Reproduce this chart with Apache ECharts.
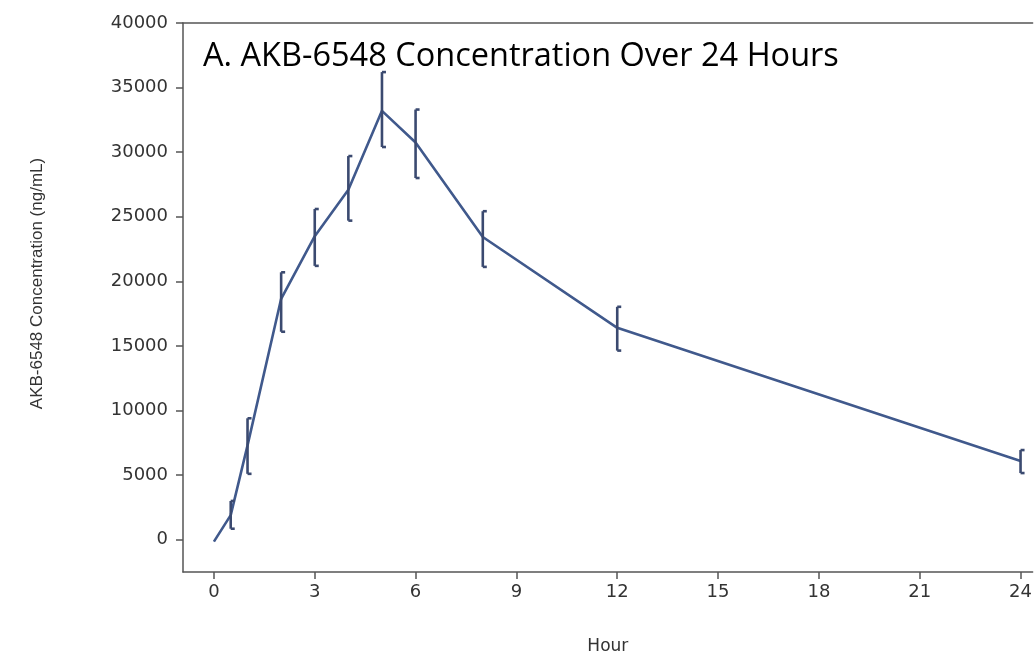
<!DOCTYPE html>
<html>
<head>
<meta charset="utf-8">
<script src="https://cdn.jsdelivr.net/npm/echarts@6/dist/echarts.min.js"></script>
<style>
html,body{margin:0;padding:0;background:#fff;}
#chart{width:1035px;height:660px;}
</style>
</head>
<body>
<div id="chart"></div>
<script>
// Data
const hours = [0, 0.5, 1, 2, 3, 4, 5, 6, 8, 12, 24];
const meanConc = [-150, 1900, 7300, 18650, 23500, 27100, 33200, 30750, 23430, 16400, 6090];
const lowerConc = [-150, 850, 5100, 16100, 21200, 24700, 30400, 28000, 21120, 14640, 5160];
const upperConc = [-150, 3000, 9400, 20700, 25600, 29700, 36200, 33300, 25430, 18030, 6940];
const xTickValues = [0, 3, 6, 9, 12, 15, 18, 21, 24];
const yTickValues = [0, 5000, 10000, 15000, 20000, 25000, 30000, 35000, 40000];
const titleText = 'A. AKB-6548 Concentration Over 24 Hours';
const xName = 'Hour';
const yName = 'AKB-6548 Concentration (ng/mL)';

const lineData = hours.map((h, i) => [h, meanConc[i]]);
const errData = hours.slice(1).map((h, j) => [h, lowerConc[j + 1], upperConc[j + 1]]);

const chart = echarts.init(document.getElementById('chart'));
const axisColor = '#555';
const labelColor = '#333';
const X_MIN = -0.92, X_MAX = 24.36;
chart.setOption({
  animation: false,
  backgroundColor: '#fff',
  title: {
    text: titleText,
    left: 198,
    top: 35,
    textStyle: {fontFamily: 'Open Sans', fontSize: 32.5, fontWeight: 'normal', color: '#000'}
  },
  grid: {left: 183, right: 0, top: 23, bottom: 85},
  xAxis: [{
    type: 'value',
    min: X_MIN, max: X_MAX,
    name: xName,
    nameLocation: 'middle',
    nameGap: 66,
    nameTextStyle: {fontFamily: 'DejaVu Sans', fontSize: 17, color: labelColor},
    axisLine: {show: true, onZero: false, lineStyle: {color: axisColor, width: 1.5}},
    axisTick: {show: true, length: 7, customValues: xTickValues, lineStyle: {color: axisColor, width: 1.5}},
    axisLabel: {customValues: xTickValues, margin: 11, fontFamily: 'DejaVu Sans', fontSize: 18, color: labelColor,
      formatter: v => String(v)},
    splitLine: {show: false}
  }, {
    type: 'value',
    position: 'top',
    min: X_MIN, max: X_MAX,
    axisLine: {show: true, onZero: false, lineStyle: {color: axisColor, width: 1.5}},
    axisTick: {show: false},
    axisLabel: {show: false},
    splitLine: {show: false}
  }],
  yAxis: {
    type: 'value',
    min: -2500, max: 40000,
    name: yName,
    nameLocation: 'middle',
    nameGap: 137,
    nameTextStyle: {fontFamily: 'Liberation Sans', fontSize: 17, color: labelColor, padding: [0, 0, 0, 28]},
    axisLine: {show: true, onZero: false, lineStyle: {color: axisColor, width: 1.5}},
    axisTick: {show: true, length: 7, customValues: yTickValues, lineStyle: {color: axisColor, width: 1.5}},
    axisLabel: {customValues: yTickValues, margin: 15, fontFamily: 'DejaVu Sans', fontSize: 18, color: labelColor,
      formatter: v => String(v)},
    splitLine: {show: false}
  },
  series: [
    {
      type: 'line',
      data: lineData,
      showSymbol: false,
      symbol: 'none',
      lineStyle: {color: '#40598c', width: 2.6},
      z: 2
    },
    {
      type: 'custom',
      data: errData,
      encode: {x: 0, y: [1, 2]},
      z: 3,
      renderItem: function (params, api) {
        const lo = api.coord([api.value(0), api.value(1)]);
        const hi = api.coord([api.value(0), api.value(2)]);
        const cap = 4;
        const style = {stroke: '#3b4a70', lineWidth: 2.6, fill: null};
        return {
          type: 'group',
          children: [
            {type: 'line', shape: {x1: lo[0], y1: lo[1], x2: hi[0], y2: hi[1]}, style: style},
            {type: 'line', shape: {x1: hi[0], y1: hi[1], x2: hi[0] + cap, y2: hi[1]}, style: style},
            {type: 'line', shape: {x1: lo[0], y1: lo[1], x2: lo[0] + cap, y2: lo[1]}, style: style}
          ]
        };
      }
    }
  ]
});
</script>
</body>
</html>
